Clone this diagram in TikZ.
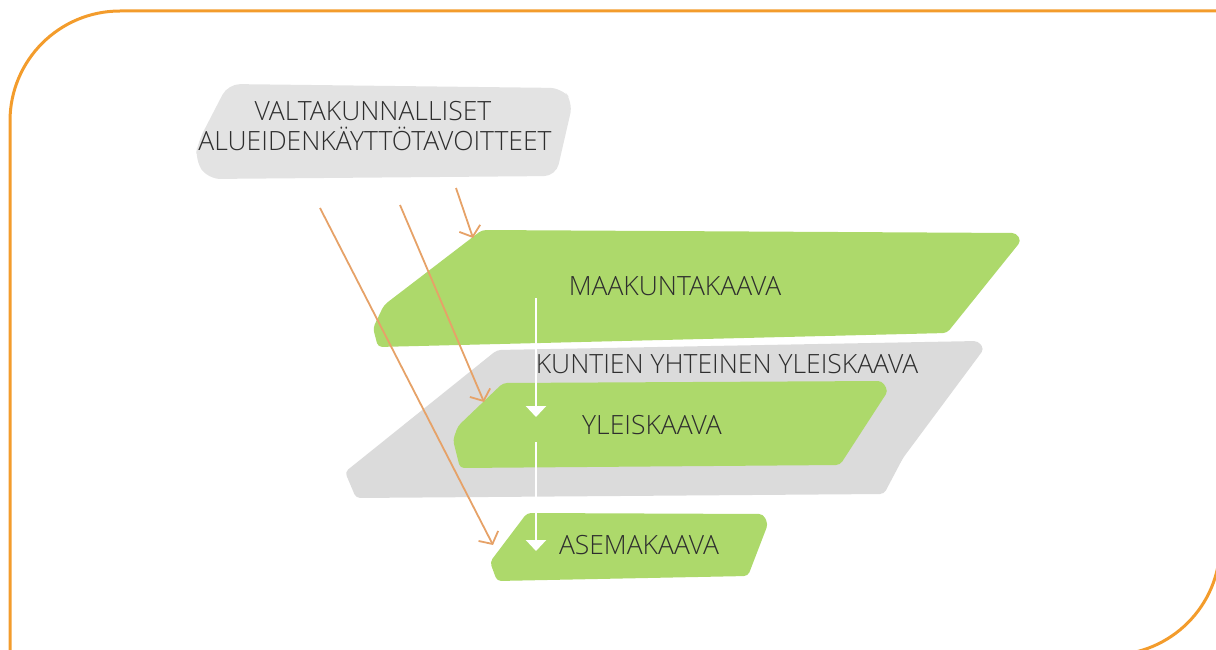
\documentclass[tikz,border=0pt]{standalone}
\usepackage{fontspec}
\IfFontExistsTF{Open Sans Light}{\setmainfont{Open Sans Light}}{\setmainfont{Open Sans}}
\usetikzlibrary{arrows.meta}
\definecolor{frameorange}{HTML}{F39C2C}
\definecolor{arroworange}{HTML}{E6A268}
\definecolor{brushgreen}{HTML}{ADD96B}
\definecolor{brushgrey}{HTML}{DBDBDB}
\definecolor{topgrey}{HTML}{E3E3E3}
\definecolor{textdark}{HTML}{2E2E2E}
\tikzset{
  greenbrush/.style={fill=brushgreen, draw=none, rounded corners=4pt},
  greybrush/.style={fill=brushgrey, draw=none, rounded corners=4pt},
  label/.style={font=\fontsize{26.5}{31}\selectfont, text=textdark, inner sep=0pt, anchor=base},
  flowarrow/.style={draw=white, line width=2.5pt, -{Triangle[width=20pt,length=11pt]}},
  inputarrow/.style={draw=arroworange, line width=1.8pt, -{Straight Barb[length=9pt,width=22pt,line width=1.8pt]}},
  frameline/.style={draw=frameorange, line width=3pt}
}
\begin{document}
\begin{tikzpicture}[x=1pt,y=-1pt]
\useasboundingbox (0,0) rectangle (1216,650);
\clip (0,0) rectangle (1216,650);
% frame
\draw[frameline] (10,700) -- (10,121) arc[start angle=180, end angle=270, radius=110] -- (1220,11) -- (1220,545) arc[start angle=0, end angle=90, radius=110] -- (1000,655);
% top grey box
\fill[topgrey, rounded corners=12pt] (228,84) -- (562,88) -- (573,102) -- (556,176) -- (208,179) -- (195,160) -- (198,142) -- cycle;
\node[label] (vat1) at (373,121) {VALTAKUNNALLISET};
\node[label] (vat2) at (375,151) {ALUEIDENKÄYTTÖTAVOITTEET};
% grey middle brush
\fill[greybrush] (497,350) -- (978,341) -- (984,349) -- (903,458) -- (884,494) -- (356,498) -- (345,472) -- cycle;
% green brush 1
\fill[greenbrush] (482,230) -- (1016,233) -- (1021,241) -- (947,333) -- (378,347) -- (373,328) -- (384,305) -- cycle;
% green brush 3
\fill[greenbrush] (503,383) -- (882,381) -- (888,391) -- (840,465) -- (460,468) -- (453,440) -- (458,426) -- cycle;
% green brush 4
\fill[greenbrush] (527,513) -- (763,514) -- (768,524) -- (748,576) -- (497,581) -- (490,562) -- cycle;
% labels
\node[label] (maak) at (675,295) {MAAKUNTAKAAVA};
\node[label] (kunt) at (727,373) {KUNTIEN YHTEINEN YLEISKAAVA};
\node[label] (ylei) at (652,434) {YLEISKAAVA};
\node[label] (asem) at (639,554) {ASEMAKAAVA};
% white flow arrows
\coordinate (f1s) at (536,298);
\coordinate (f1e) at (536,417);
\coordinate (f2s) at (536,442);
\coordinate (f2e) at (536,551);
\draw[flowarrow] (f1s) -- (f1e);
\draw[flowarrow] (f2s) -- (f2e);
% orange input arrows
\coordinate (a1s) at (456,188);
\coordinate (a1e) at (473,238);
\coordinate (a2s) at (400,205);
\coordinate (a2e) at (484,402);
\coordinate (a3s) at (320,208);
\coordinate (a3e) at (493,545);
\draw[inputarrow] (a1s) -- (a1e);
\draw[inputarrow] (a2s) -- (a2e);
\draw[inputarrow] (a3s) -- (a3e);
\end{tikzpicture}
\end{document}
